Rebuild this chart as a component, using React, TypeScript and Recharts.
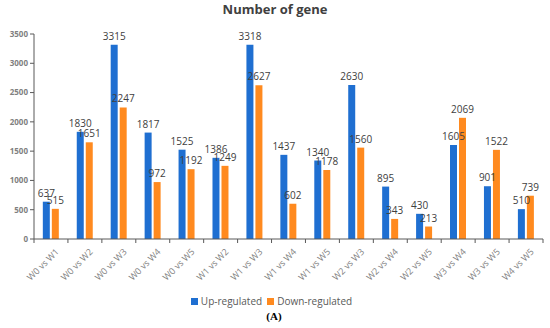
import { BarChart, Bar, XAxis, YAxis, Legend, LabelList } from 'recharts'

const categories = [
  'W0 vs W1', 'W0 vs W2', 'W0 vs W3', 'W0 vs W4', 'W0 vs W5',
  'W1 vs W2', 'W1 vs W3', 'W1 vs W4', 'W1 vs W5', 'W2 vs W3',
  'W2 vs W4', 'W2 vs W5', 'W3 vs W4', 'W3 vs W5', 'W4 vs W5',
]
const upRegulated = [637, 1830, 3315, 1817, 1525, 1386, 3318, 1437, 1340, 2630, 895, 430, 1605, 901, 510]
const downRegulated = [515, 1651, 2247, 972, 1192, 1249, 2627, 602, 1178, 1560, 343, 213, 2069, 1522, 739]
const yTicks = [0, 500, 1000, 1500, 2000, 2500, 3000, 3500]

const data = categories.map((name, i) => ({
  name,
  up: upRegulated[i],
  down: downRegulated[i],
}))

const FONT = '"Open Sans", "Noto Sans", sans-serif'
const BLUE = '#1f6fd1'
const ORANGE = '#ff8a1f'
const AXIS = '#595959'
// 550 - 34 (y axis) - 7 (right margin), split over 15 categories
const BAND = (550 - 34 - 7) / categories.length

// category label, rotated like Excel, plus a tick mark on the right edge of the band
const CategoryTick = ({ x, y, payload, index }: any) => {
  const axisY = y - 6
  const tx = x + 4
  const ty = axisY + 9
  return (
    <g>
      {index === 0 && (
        <line x1={x - BAND / 2} x2={x - BAND / 2} y1={axisY} y2={axisY + 4} stroke={AXIS} />
      )}
      <line x1={x + BAND / 2} x2={x + BAND / 2} y1={axisY} y2={axisY + 4} stroke={AXIS} />
      <text
        x={tx}
        y={ty}
        transform={`rotate(-45, ${tx}, ${ty})`}
        textAnchor="end"
        dy="0.7em"
        fontSize={9}
        fill="#7f7f7f"
        fontFamily={FONT}
      >
        {payload.value}
      </text>
    </g>
  )
}

const legendItems = [
  { name: 'Up-regulated', color: BLUE },
  { name: 'Down-regulated', color: ORANGE },
]

const ChartLegend = () => (
  <div style={{ display: 'flex', justifyContent: 'center', gap: 5, fontSize: 10, color: '#595959', fontFamily: FONT }}>
    {legendItems.map((item) => (
      <div key={item.name} style={{ display: 'flex', alignItems: 'center', gap: 3 }}>
        <div style={{ width: 7, height: 7, background: item.color }}></div>
        <span>{item.name}</span>
      </div>
    ))}
  </div>
)

const App = () => {
  return (
    <div style={{ position: 'absolute', left: 0, top: 0, width: 550, height: 328, background: '#fff', fontFamily: FONT }}>
      <div
        style={{
          position: 'absolute', left: 0, width: 550, top: 0, textAlign: 'center',
          fontSize: 13, fontWeight: 700, color: '#404040',
        }}
      >
        Number of gene
      </div>
      <BarChart
        width={550}
        height={328}
        data={data}
        margin={{ top: 34, right: 7, left: 0, bottom: 18 }}
        barCategoryGap="26%"
        barGap={2}
      >
        <YAxis
          domain={[0, 3500]}
          ticks={yTicks}
          width={34}
          axisLine={{ stroke: AXIS }}
          tickLine={{ stroke: AXIS }}
          tickSize={4}
          tick={{ fontSize: 8, fill: '#7f7f7f', fontWeight: 700, fontFamily: FONT }}
        />
        <XAxis
          dataKey="name"
          interval={0}
          height={55}
          axisLine={{ stroke: AXIS }}
          tickLine={false}
          tickSize={4}
          tickMargin={2}
          tick={<CategoryTick />}
        />
        <Legend verticalAlign="bottom" height={16} content={<ChartLegend />} />
        <Bar dataKey="up" name="Up-regulated" fill={BLUE} isAnimationActive={false}>
          <LabelList dataKey="up" position="top" style={{ fontSize: 10, fill: '#404040', fontFamily: FONT }} />
        </Bar>
        <Bar dataKey="down" name="Down-regulated" fill={ORANGE} isAnimationActive={false}>
          <LabelList dataKey="down" position="top" style={{ fontSize: 10, fill: '#404040', fontFamily: FONT }} />
        </Bar>
      </BarChart>
      <div
        style={{
          position: 'absolute', left: 0, width: 550, top: 310, textAlign: 'center',
          fontSize: 11, fontWeight: 700, color: '#000', fontFamily: '"Liberation Serif", serif',
        }}
      >
        <span style={{ position: 'relative', left: -1 }}>(A)</span>
      </div>
    </div>
  )
}

export default App
